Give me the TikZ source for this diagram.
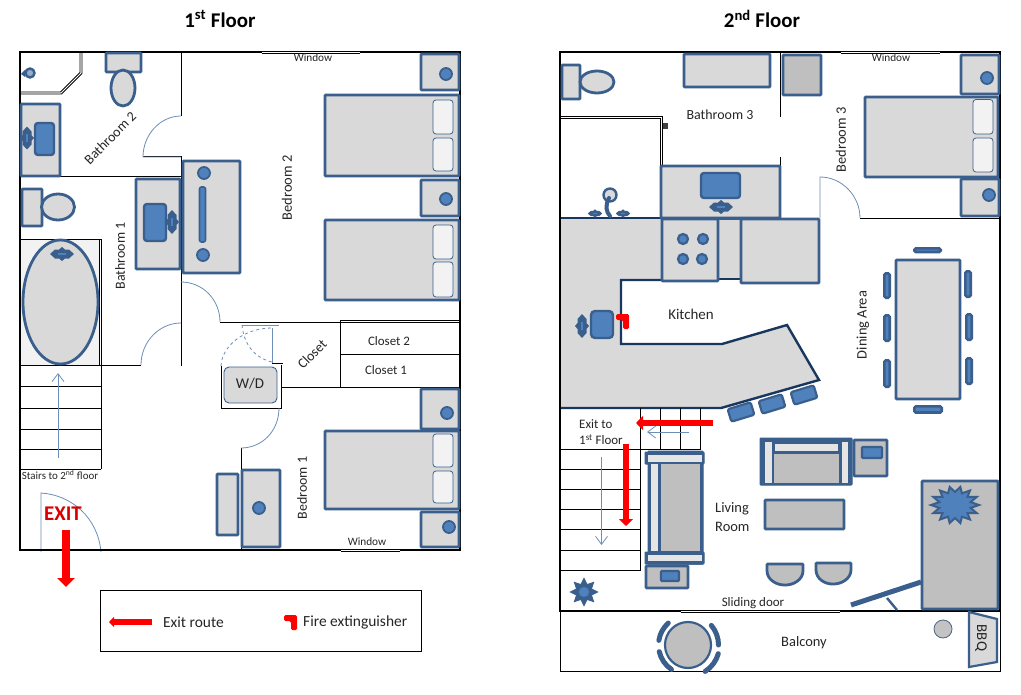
\documentclass[tikz,border=0pt]{standalone}
\usepackage{fontspec}
\setmainfont{Carlito}
\usetikzlibrary{shapes.geometric,arrows.meta}
\definecolor{furnline}{HTML}{3B5F8C}
\definecolor{furnfill}{HTML}{D9D9D9}
\definecolor{darkfill}{HTML}{BFBFBF}
\definecolor{lightfill}{HTML}{F2F2F2}
\definecolor{sinkfill}{HTML}{4F81BD}
\definecolor{doorline}{HTML}{6C8EB8}
\definecolor{navy}{HTML}{17375E}
\newcommand{\fsize}[1]{\fontsize{#1}{#1}\selectfont}
\begin{document}
\begin{tikzpicture}[x=1bp,y=-1bp,
wall/.style={draw=black, line width=2bp},
thinwall/.style={draw=black, line width=1bp},
dblline/.style={draw=black, line width=0.75bp},
gap/.style={draw=white, line width=3.2bp},
door/.style={draw=doorline, line width=0.8bp},
furn/.style={draw=furnline, fill=furnfill, line width=2.8bp, rounded corners=0.8bp},
furnd/.style={furn, fill=darkfill},
sink/.style={draw=furnline, fill=sinkfill, line width=2.4bp, rounded corners=3bp},
knob/.style={draw=furnline, fill=sinkfill, line width=1.8bp},
chair/.style={furn, fill=sinkfill, line width=2.6bp, rounded corners=1.5bp},
pillow/.style={draw=furnline, fill=lightfill, line width=0.8bp, rounded corners=3bp},
counteredge/.style={draw=navy, line width=2.4bp},
stool/.style={draw=furnline, fill=sinkfill, line width=2.2bp, rounded corners=2bp, minimum width=24bp, minimum height=13bp, inner sep=0pt},
route/.style={draw=red, line width=6bp, -{Triangle[length=7bp,width=14bp]}},
label/.style={font=\fsize{14.5}, inner sep=0pt, text=black!85},
small/.style={font=\fsize{11.3}, inner sep=0pt, text=black!85},
title/.style={font=\fsize{21}\bfseries, inner sep=0pt},
faucet/.pic={
  \fill[furnline] (-12,0)--(-7,-4.5)--(-3,-4.5)--(0,-7)--(3,-4.5)--(7,-4.5)--(12,0)--(7,4.5)--(3,4.5)--(0,7)--(-3,4.5)--(-7,4.5)--cycle;
  \fill[sinkfill] (-4,-1.3) rectangle (4,1.3);
},
extinguisher/.pic={
  \fill[red,rounded corners=1.5bp] (0,0)--(13,0)--(13,15)--(7,15)--(7,6)--(0,6)--cycle;
}]

\useasboundingbox (0,0) rectangle (1021,695);
\fill[white] (0,0) rectangle (1021,695);

% titles
\node[title] (title1) at (220,19) {1\textsuperscript{st} Floor};
\node[title] (title2) at (762,19) {2\textsuperscript{nd} Floor};

%%% first floor
% tub and stairs
\path[fill=lightfill] (20,239) rectangle (100,365);
\draw[thinwall] (20,239) -- (101,239);
\draw[dblline] (99.5,239) -- (99.5,365);
\draw[dblline] (101.2,239) -- (101.2,365);
\foreach \y in {365,386,408,429,449,469}
  \draw[thinwall] (20,\y) -- (101,\y);
\draw[thinwall] (101,365) -- (101,469);
\draw[door, -{Straight Barb[length=8bp,width=12bp]}] (58,458) -- (58,373);

% walls
\draw[thinwall] (181,52) -- (181,116);
\draw[thinwall] (143,157) -- (181,157) -- (181,366);
\draw[thinwall] (20,177) -- (181,177);
\draw[thinwall] (101,365) -- (141,365);
\draw[thinwall] (220,322) -- (460,322);
\draw[dblline] (340,320.5) -- (460,320.5);
\draw[thinwall] (340,320.5) -- (340,387);
\draw[thinwall] (340,354) -- (460,354);
\draw[thinwall] (281,387) -- (460,387);
\draw[thinwall] (221,366) -- (221,408) -- (281,408) -- (281,365);
\draw[thinwall] (272,363) -- (283,363);
\draw[thinwall] (241,448) -- (241,550);
\draw[dblline] (80,52) -- (80,72.5) -- (60.5,92) -- (20,92);
\draw[dblline] (82,52) -- (82,73.5) -- (61.5,94) -- (20,94);

% doors
\draw[door] (181,116) .. controls (160,116) and (143,135) .. (143,157) -- (181,157);
\draw[door] (181,323) .. controls (159,323) and (141,342) .. (141,365);
\draw[door] (181,282) .. controls (203,282) and (220,300) .. (220,322);
\draw[door] (279,408) .. controls (279,431) and (262,448) .. (241,448);
\draw[door] (41,552) -- (41,493) .. controls (72,495) and (98,518) .. (101,552);
\draw[door, dashed] (221,366) .. controls (222,345) and (245,328) .. (272,328);
\draw[door] (272,328) -- (272,363);
\draw[door] (242,325) -- (279,325);
\draw[door, dashed] (242,325) .. controls (244,345) and (255,358) .. (272,362);

% outer wall
\draw[wall] (20,52) rectangle (460,550);
\draw[gap] (262,52) -- (360,52);
\draw[dblline] (262,51) -- (360,51);
\draw[dblline] (262,53) -- (360,53);
\draw[gap] (341,550) -- (400,550);
\draw[dblline] (341,549) -- (400,549);
\draw[dblline] (341,551) -- (400,551);

% bathroom 2
\draw[knob, fill=furnfill!50!sinkfill, line width=2.4bp] (30,73) circle (4.5);
\fill[furnline] (25,70) -- (21,74) -- (25,77) -- cycle;
\draw[furn] (106,53) rectangle (141,72);
\draw[furn] (123,88) ellipse (12 and 18);
\draw[furn] (21,104) rectangle (60,176);
\draw[sink] (35,123) rectangle (54,155);
\pic[rotate=90, xscale=0.95] at (27,138) {faucet};

% bathroom 1
\draw[furn] (22,189) rectangle (42,226);
\draw[furn] (58,207) ellipse (16.5 and 13);
\draw[furn] (60.5,302) ellipse (37.5 and 62);
\pic at (62,254) {faucet};
\draw[furn] (136,179) rectangle (180,269);
\draw[sink] (144,204) rectangle (166,241);
\pic[rotate=90] at (172,222) {faucet};

% bedroom 2
\draw[furn] (183,161) rectangle (240,273);
\draw[knob] (204,173) circle (6);
\draw[knob] (203,255) circle (6);
\draw[sink, rounded corners=2bp, line width=1.6bp] (199.5,187) rectangle (205.5,242);
\draw[furn] (421,54) rectangle (459,90);
\draw[knob] (446,74) circle (6);
\draw[furn] (325,95) rectangle (459,176);
\draw[pillow] (433,100) rectangle (453,134);
\draw[pillow] (433,138) rectangle (453,171);
\draw[furn] (421,180) rectangle (459,216);
\draw[knob] (446,199) circle (6);
\draw[furn] (325,220) rectangle (459,300);
\draw[pillow] (433,225) rectangle (453,259);
\draw[pillow] (433,262) rectangle (453,297);

% bedroom 1
\draw[furn, line width=0.9bp, rounded corners=5bp] (224,367) rectangle (277,403);
\draw[furn] (242,470) rectangle (280,547);
\draw[knob] (259,508) circle (6);
\draw[furn] (217,474) rectangle (238,535);
\draw[furn] (421,389) rectangle (459,429);
\draw[knob] (447,413) circle (6);
\draw[furn] (325,431) rectangle (459,509);
\draw[pillow] (433,434) rectangle (453,467);
\draw[pillow] (433,471) rectangle (453,503);
\draw[furn] (421,512) rectangle (459,547);
\draw[knob] (449,527) circle (6);

% labels
\node[small] (win1) at (313,58) {Window};
\node[small] (win2) at (367,542) {Window};
\node[label, font=\fsize{14}, rotate=45] (bath2) at (110,138) {Bathroom 2};
\node[label, font=\fsize{14}, rotate=90] (bath1) at (120,256) {Bathroom 1};
\node[label, rotate=90] (bed2) at (287,188) {Bedroom 2};
\node[label, font=\fsize{14}, rotate=90] (bed1) at (302,488) {Bedroom 1};
\node[label, font=\fsize{14}, rotate=45] (closet) at (312,354) {Closet};
\node[label, font=\fsize{13}] (closet2) at (389,341) {Closet 2};
\node[label, font=\fsize{13}] (closet1) at (386,370) {Closet 1};
\node[label, font=\fsize{15}] (wd) at (250,384) {W/D};
\node[small, font=\fsize{11}] (stairs1) at (60,475) {Stairs to 2\textsuperscript{nd} floor};
\node[font=\fsize{21}\bfseries, text=red!85!black, inner sep=0pt] (exit) at (63,514) {EXIT};
\draw[route, line width=8bp, -{Triangle[length=9bp,width=17bp]}] (66,530) -- (66,587);

% legend
\draw[thinwall] (100,590) rectangle (421,651);
\draw[route, line width=5.5bp, -{Triangle[length=5bp,width=10bp]}] (152,622) -- (109,622);
\node[label, font=\fsize{15.5}, anchor=west] (legend1) at (163,622) {Exit route};
\pic at (284,615) {extinguisher};
\node[label, font=\fsize{15.5}, anchor=west] (legend2) at (303,622) {Fire extinguisher};

%%% second floor
% kitchen counter
\fill[furnfill] (560,218) -- (661,218) -- (661,280) -- (621,280) -- (621,344) -- (722,344) -- (787,325) -- (819,380) -- (721,408) -- (560,408) -- cycle;
\draw[counteredge] (560,218) -- (661,218);
\draw[counteredge] (718,280) -- (621,280) -- (621,344) -- (722,344) -- (787,325) -- (819,380) -- (721,408) -- (560,408);

% stairs
\foreach \y in {449,469,489,509,529,550,570}
  \draw[thinwall] (560,\y) -- (640.5,\y);
\draw[thinwall] (640.5,449) -- (701,449);
\foreach \x in {660.5,680.5,700.5}
  \draw[thinwall] (\x,408) -- (\x,449);
\draw[thinwall] (640.5,408) -- (640.5,570);
\draw[door, -{Straight Barb[length=8bp,width=12bp]}] (601.5,457) -- (601.5,545);
\draw[door, -{Straight Barb[length=8bp,width=12bp]}] (689,432) -- (647,432);

% walls
\draw[thinwall] (780.5,52) -- (780.5,117);
\draw[thinwall] (780.5,157) -- (780.5,166);
\draw[dblline] (560,116) -- (662,116) -- (662,166);
\draw[dblline] (560,118) -- (660,118) -- (660,166);
\fill[black!75] (662.5,123.5) rectangle (667.5,129);
\draw[thinwall] (860,218) -- (1000,218);
\draw[door] (820,218) -- (820,177) .. controls (842,177) and (860,196) .. (860,218);

% balcony and outer wall
\draw[thinwall] (560,611) rectangle (1000.5,671);
\draw[wall] (560,52) rectangle (1000,611);
\draw[gap] (841,52) -- (940,52);
\draw[dblline] (841,51) -- (940,51);
\draw[dblline] (841,53) -- (940,53);
\draw[gap] (681,611) -- (840,611);
\draw[dblline] (681,610) -- (840,610);
\draw[dblline] (681,612) -- (840,612);

% bathroom 3
\draw[furn] (562,65) rectangle (580,99);
\draw[furn] (597,82) ellipse (17 and 11);
\draw[furn] (684,54) rectangle (770,87);
\draw[furnd] (783,55) rectangle (821,95);
\draw[furn] (661,166) rectangle (780,218);
\draw[sink] (701,173) rectangle (740,198);
\pic at (721,207) {faucet};
\draw[knob, fill=furnfill, line width=2.4bp] (610,195) circle (6.5);
\draw[draw=furnline, line width=4bp, line cap=round] (609,198) .. controls (605,205) and (606,212) .. (610,216);
\pic[scale=0.6] at (595,213.5) {faucet};
\pic[scale=0.6] at (623,213.5) {faucet};

% kitchen
\fill[furnfill] (718,219) rectangle (741,279);
\draw[draw=furnline, line width=2.4bp] (718,219) -- (741,219);
\draw[counteredge] (718,279) -- (741,279);
\draw[furn] (662,219) rectangle (718,281);
\foreach \x/\y in {683/239,703/239,683/259,702/259}
  \draw[knob, line width=2.2bp] (\x,\y) circle (5);
\draw[furn] (741,219) rectangle (819,283);
\draw[sink, rounded corners=4bp] (591,311) rectangle (613,338);
\pic[rotate=90] at (582,326) {faucet};
\pic at (616,314) {extinguisher};
\node[stool, rotate=17] (stool1) at (741,412) {};
\node[stool, rotate=17] (stool2) at (772,404) {};
\node[stool, rotate=17] (stool3) at (804,395) {};

% bedroom 3
\draw[furn] (961,55) rectangle (999,94);
\draw[knob] (987,78) circle (6);
\draw[furn] (865,97) rectangle (998,177);
\draw[pillow] (973,99.5) rectangle (993,134);
\draw[pillow] (973,138) rectangle (993,172);
\draw[furn] (961,179) rectangle (999,216);
\draw[knob] (989,195) circle (6);

% dining area
\draw[furn] (896,260) rectangle (960,399);
\draw[chair] (914.3,248.3) rectangle (940.7,252);
\draw[chair] (914.3,406.3) rectangle (941.7,412.5);
\draw[chair] (884.3,273.3) rectangle (889.7,297.7);
\draw[chair] (884.3,315.3) rectangle (889.7,340.7);
\draw[chair] (884.3,360.3) rectangle (889.7,386.7);
\draw[chair] (965.3,271.3) rectangle (970.7,296.7);
\draw[chair] (966.3,314.3) rectangle (971.7,339.7);
\draw[chair] (966.3,358.3) rectangle (971.7,383.7);

% living room
\draw[furn, fill=furnline, line width=1bp] (648,451) rectangle (703,564);
\draw[furn, fill=furnline, line width=1bp] (645,452) rectangle (704,464);
\draw[furn, fill=furnline, line width=1bp] (645,552) rectangle (704,564);
\fill[lightfill!50!furnfill] (648,455) rectangle (702,461.5);
\fill[lightfill!50!furnfill] (648,555) rectangle (702,561);
\fill[lightfill!50!furnfill] (650.5,464) rectangle (658,551);
\fill[darkfill] (661,464) rectangle (700,551);
\draw[furn, fill=furnline, line width=1bp] (760,438) rectangle (852,485);
\fill[lightfill!50!furnfill] (765,442) rectangle (772,482.7);
\fill[lightfill!50!furnfill] (841.7,442) rectangle (848,482.7);
\fill[lightfill!50!furnfill] (775,444) rectangle (838,451);
\fill[darkfill] (774,454) rectangle (839,482.7);
\draw[furnd] (646,566) rectangle (688,588);
\draw[sink, rounded corners=1bp] (661,571) rectangle (679,581);
\draw[furnd] (854,440) rectangle (887,476);
\draw[sink, rounded corners=1bp] (862,447) rectangle (882,458);
\draw[furnd] (765,500) rectangle (844,529);
\draw[furnd] (767,564) -- (803,564) -- (803,570) .. controls (803,580) and (793,585) .. (785,585) .. controls (777,585) and (767,580) .. (767,570) -- cycle;
\draw[furnd] (816,563) -- (851,563) -- (851,569) .. controls (851,579) and (841,584) .. (833,584) .. controls (825,584) and (816,579) .. (816,569) -- cycle;
\draw[draw=furnline, line width=5bp] (851,605) -- (921,582);
\draw[draw=furnline, line width=2.4bp] (887,598) -- (897,610);
\draw[furnd] (922,481) rectangle (998,609);
\draw[draw=furnline, fill=sinkfill, line width=2bp] plot[samples at={0,...,27}, variable=\k] ({955+(mod(\k,2)==0 ? 24 : 16)*cos(\k*360/28)},{505+(mod(\k,2)==0 ? 18.5 : 13)*sin(\k*360/28)}) -- cycle;
\node[star, star points=8, star point ratio=1.7, draw=furnline, fill=furnline, line width=1bp, minimum size=27bp, inner sep=0pt] (plant) at (584,592) {};
\fill[sinkfill] (plant.center) circle (5);

% balcony
\draw[furnd, line width=2.2bp] (688,645) circle (23);
\foreach \a/\b/\r in {124/167/29.5,16/57/31.5,-40/0/30.5,189/228/29.5}
  \draw[draw=furnline, line width=5bp, line cap=round] (688,645) ++(\a:\r) arc (\a:\b:\r);
\draw[draw=doorline!70!black, fill=furnfill!90!black, line width=0.8bp] (943,629) circle (9);
\draw[furn, line width=2.2bp, rounded corners=0pt] (969,612) -- (997,619) -- (997,662) -- (969,667) -- cycle;

% red routes
\draw[route] (713,423) -- (636,423);
\draw[route] (626,444) -- (626,526);

% labels
\node[label, font=\fsize{14}] (bath3) at (720,115) {Bathroom 3};
\node[small] (win3) at (891,58) {Window};
\node[label, rotate=90] (bed3) at (841,140) {Bedroom 3};
\node[label, font=\fsize{15}] (kitchen) at (691,314) {Kitchen};
\node[label, rotate=90] (dining) at (863,325) {Dining Area};
\node[label, font=\fsize{13}, anchor=west] (exit2a) at (579,424) {Exit to};
\node[label, font=\fsize{13}, anchor=west] (exit2b) at (579,440) {1\textsuperscript{st} Floor};
\node[label, anchor=west] (living) at (715,509) {Living};
\node[label, anchor=west] (room) at (715,527) {Room};
\node[small, font=\fsize{13}] (sliding) at (753,603) {Sliding door};
\node[label] (balcony) at (804,643) {Balcony};
\node[label, font=\fsize{15}, rotate=-90] (bbq) at (981,638) {BBQ};

\end{tikzpicture}
\end{document}
